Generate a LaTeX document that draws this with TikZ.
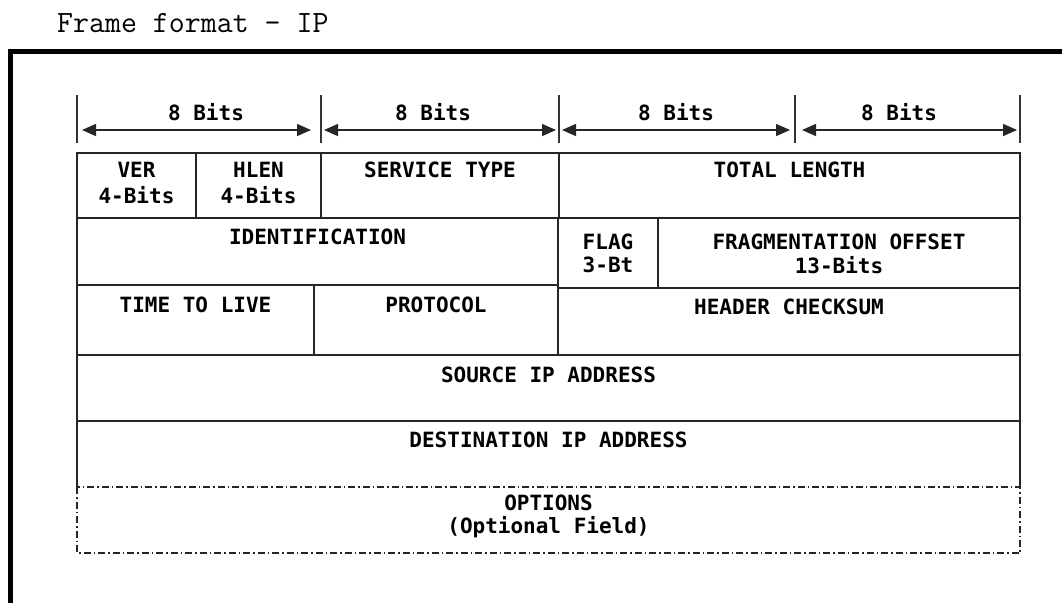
\documentclass[tikz,border=0pt]{standalone}
\usepackage{fontspec}
\usetikzlibrary{arrows.meta}
\newfontfamily\monob{DejaVu Sans Mono}[BoldFont={DejaVu Sans Mono Bold}]
\begin{document}
\begin{tikzpicture}[x=1pt,y=-1pt,
  grid/.style={line width=1.6pt,draw=black!85},
  tick/.style={line width=1.4pt,draw=black!80},
  dim/.style={line width=1.4pt,draw=black!85,{Triangle[length=14pt,width=12pt]}-{Triangle[length=14pt,width=12pt]}},
  lbl/.style={font=\monob\bfseries\fontsize{21}{24}\selectfont,inner sep=0pt,align=center},
  dashdot/.style={line width=1.3pt,draw=black!85,dash pattern=on 7pt off 3pt on 1.5pt off 3pt}]
\useasboundingbox (0,0) rectangle (1062,603);
% title
\node[font=\ttfamily\fontsize{31}{34}\selectfont,anchor=west,inner sep=0pt] (title) at (57,23) {Frame format - IP};
% outer frame
\draw[line width=5pt] (10.5,603) -- (10.5,51.5) -- (1062,51.5);
% ticks
\foreach \n/\x in {t0/77,t1/321,t2/559,t3/795,t4/1020}{
  \coordinate (\n a) at (\x,95);
  \coordinate (\n b) at (\x,143);
  \draw[tick] (\n a) -- (\n b);
}
\coordinate (a1l) at (82,130); \coordinate (a1r) at (311,130);
\coordinate (a2l) at (324,130); \coordinate (a2r) at (556,130);
\coordinate (a3l) at (562,130); \coordinate (a3r) at (790,130);
\coordinate (a4l) at (802,130); \coordinate (a4r) at (1017,130);
\draw[dim] (a1l) -- (a1r);
\draw[dim] (a2l) -- (a2r);
\draw[dim] (a3l) -- (a3r);
\draw[dim] (a4l) -- (a4r);
\node[lbl] (b1) at (206,112) {8 Bits};
\node[lbl] (b2) at (433,112) {8 Bits};
\node[lbl] (b3) at (676,112) {8 Bits};
\node[lbl] (b4) at (899,112) {8 Bits};
% row 1
\draw[grid] (77,153) rectangle (196,218);
\draw[grid] (196,153) rectangle (321,218);
\draw[grid] (321,153) rectangle (559,218);
\draw[grid] (559,153) rectangle (1020,218);
% row 2
\draw[grid] (77,218) rectangle (558,285);
\draw[grid] (558,218) rectangle (658,288);
\draw[grid] (658,218) rectangle (1020,288);
% row 3
\draw[grid] (77,285) rectangle (314,355);
\draw[grid] (314,285) rectangle (558,355);
\draw[grid] (558,288) rectangle (1020,355);
% row 4, 5
\draw[grid] (77,355) rectangle (1020,421);
\draw[grid] (77,487) -- (77,421) -- (1020,421) -- (1020,487);
% options
\draw[dashdot] (77,487) rectangle (1020,553);
% texts
\node[lbl] (ver) at (136.5,170) {VER};
\node[lbl] (verb) at (136.5,195) {4-Bits};
\node[lbl] (hlen) at (258.5,170) {HLEN};
\node[lbl] (hlenb) at (258.5,195) {4-Bits};
\node[lbl] (serv) at (440,170) {SERVICE TYPE};
\node[lbl] (total) at (789.5,170) {TOTAL LENGTH};
\node[lbl] (ident) at (317.5,237) {IDENTIFICATION};
\node[lbl] (flag) at (608,242) {FLAG};
\node[lbl] (flagb) at (608,265) {3-Bt};
\node[lbl] (frag) at (839,242) {FRAGMENTATION OFFSET};
\node[lbl] (fragb) at (839,265) {13-Bits};
\node[lbl] (ttl) at (195.5,305) {TIME TO LIVE};
\node[lbl] (proto) at (436,305) {PROTOCOL};
\node[lbl] (hcs) at (789,307) {HEADER CHECKSUM};
\node[lbl] (src) at (548.5,375) {SOURCE IP ADDRESS};
\node[lbl] (dst) at (548.5,440) {DESTINATION IP ADDRESS};
\node[lbl] (opt) at (548.5,503) {OPTIONS};
\node[lbl] (optb) at (548.5,527) {(Optional Field)};
\end{tikzpicture}
\end{document}
